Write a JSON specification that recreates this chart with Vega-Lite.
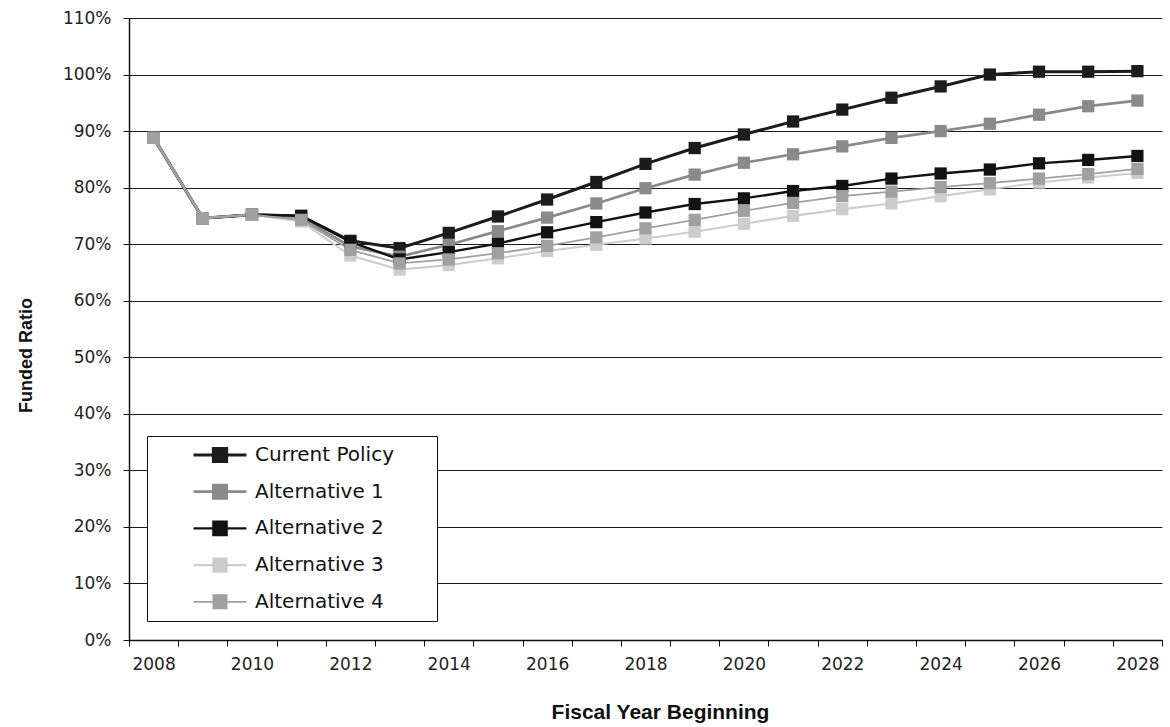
{
  "$schema": "https://vega.github.io/schema/vega-lite/v6.json",
  "width": 1033,
  "height": 622,
  "autosize": {"type": "none"},
  "padding": {"left": 129, "top": 18, "right": 8, "bottom": 87},
  "background": "white",
  "config": {
    "view": {"stroke": null},
    "axis": {"labelFont": "DejaVu Sans", "labelColor": "#222", "titleColor": "#111", "domainColor": "#111", "tickColor": "#111"}
  },
  "data": {"values": [
    {"year": 2008, "series": "Current Policy", "value": 88.8},
    {"year": 2009, "series": "Current Policy", "value": 74.6},
    {"year": 2010, "series": "Current Policy", "value": 75.2},
    {"year": 2011, "series": "Current Policy", "value": 75.0},
    {"year": 2012, "series": "Current Policy", "value": 70.6},
    {"year": 2013, "series": "Current Policy", "value": 69.3},
    {"year": 2014, "series": "Current Policy", "value": 72.0},
    {"year": 2015, "series": "Current Policy", "value": 74.9},
    {"year": 2016, "series": "Current Policy", "value": 77.9},
    {"year": 2017, "series": "Current Policy", "value": 81.0},
    {"year": 2018, "series": "Current Policy", "value": 84.2},
    {"year": 2019, "series": "Current Policy", "value": 87.0},
    {"year": 2020, "series": "Current Policy", "value": 89.4},
    {"year": 2021, "series": "Current Policy", "value": 91.7},
    {"year": 2022, "series": "Current Policy", "value": 93.8},
    {"year": 2023, "series": "Current Policy", "value": 95.9},
    {"year": 2024, "series": "Current Policy", "value": 97.9},
    {"year": 2025, "series": "Current Policy", "value": 100.0},
    {"year": 2026, "series": "Current Policy", "value": 100.5},
    {"year": 2027, "series": "Current Policy", "value": 100.5},
    {"year": 2028, "series": "Current Policy", "value": 100.6},
    {"year": 2008, "series": "Alternative 1", "value": 88.8},
    {"year": 2009, "series": "Alternative 1", "value": 74.6},
    {"year": 2010, "series": "Alternative 1", "value": 75.2},
    {"year": 2011, "series": "Alternative 1", "value": 74.6},
    {"year": 2012, "series": "Alternative 1", "value": 69.6},
    {"year": 2013, "series": "Alternative 1", "value": 67.8},
    {"year": 2014, "series": "Alternative 1", "value": 69.9},
    {"year": 2015, "series": "Alternative 1", "value": 72.3},
    {"year": 2016, "series": "Alternative 1", "value": 74.7},
    {"year": 2017, "series": "Alternative 1", "value": 77.2},
    {"year": 2018, "series": "Alternative 1", "value": 79.9},
    {"year": 2019, "series": "Alternative 1", "value": 82.3},
    {"year": 2020, "series": "Alternative 1", "value": 84.4},
    {"year": 2021, "series": "Alternative 1", "value": 85.9},
    {"year": 2022, "series": "Alternative 1", "value": 87.3},
    {"year": 2023, "series": "Alternative 1", "value": 88.8},
    {"year": 2024, "series": "Alternative 1", "value": 90.0},
    {"year": 2025, "series": "Alternative 1", "value": 91.3},
    {"year": 2026, "series": "Alternative 1", "value": 92.9},
    {"year": 2027, "series": "Alternative 1", "value": 94.4},
    {"year": 2028, "series": "Alternative 1", "value": 95.4},
    {"year": 2008, "series": "Alternative 2", "value": 88.8},
    {"year": 2009, "series": "Alternative 2", "value": 74.6},
    {"year": 2010, "series": "Alternative 2", "value": 75.2},
    {"year": 2011, "series": "Alternative 2", "value": 75.0},
    {"year": 2012, "series": "Alternative 2", "value": 70.4},
    {"year": 2013, "series": "Alternative 2", "value": 67.3},
    {"year": 2014, "series": "Alternative 2", "value": 68.6},
    {"year": 2015, "series": "Alternative 2", "value": 70.1},
    {"year": 2016, "series": "Alternative 2", "value": 72.1},
    {"year": 2017, "series": "Alternative 2", "value": 73.9},
    {"year": 2018, "series": "Alternative 2", "value": 75.6},
    {"year": 2019, "series": "Alternative 2", "value": 77.1},
    {"year": 2020, "series": "Alternative 2", "value": 78.1},
    {"year": 2021, "series": "Alternative 2", "value": 79.4},
    {"year": 2022, "series": "Alternative 2", "value": 80.3},
    {"year": 2023, "series": "Alternative 2", "value": 81.6},
    {"year": 2024, "series": "Alternative 2", "value": 82.5},
    {"year": 2025, "series": "Alternative 2", "value": 83.2},
    {"year": 2026, "series": "Alternative 2", "value": 84.3},
    {"year": 2027, "series": "Alternative 2", "value": 84.9},
    {"year": 2028, "series": "Alternative 2", "value": 85.6},
    {"year": 2008, "series": "Alternative 3", "value": 88.8},
    {"year": 2009, "series": "Alternative 3", "value": 74.6},
    {"year": 2010, "series": "Alternative 3", "value": 75.2},
    {"year": 2011, "series": "Alternative 3", "value": 74.0},
    {"year": 2012, "series": "Alternative 3", "value": 68.0},
    {"year": 2013, "series": "Alternative 3", "value": 65.5},
    {"year": 2014, "series": "Alternative 3", "value": 66.3},
    {"year": 2015, "series": "Alternative 3", "value": 67.5},
    {"year": 2016, "series": "Alternative 3", "value": 68.8},
    {"year": 2017, "series": "Alternative 3", "value": 69.9},
    {"year": 2018, "series": "Alternative 3", "value": 71.0},
    {"year": 2019, "series": "Alternative 3", "value": 72.2},
    {"year": 2020, "series": "Alternative 3", "value": 73.6},
    {"year": 2021, "series": "Alternative 3", "value": 75.0},
    {"year": 2022, "series": "Alternative 3", "value": 76.2},
    {"year": 2023, "series": "Alternative 3", "value": 77.2},
    {"year": 2024, "series": "Alternative 3", "value": 78.5},
    {"year": 2025, "series": "Alternative 3", "value": 79.7},
    {"year": 2026, "series": "Alternative 3", "value": 80.9},
    {"year": 2027, "series": "Alternative 3", "value": 81.8},
    {"year": 2028, "series": "Alternative 3", "value": 82.6},
    {"year": 2008, "series": "Alternative 4", "value": 88.8},
    {"year": 2009, "series": "Alternative 4", "value": 74.6},
    {"year": 2010, "series": "Alternative 4", "value": 75.2},
    {"year": 2011, "series": "Alternative 4", "value": 74.3},
    {"year": 2012, "series": "Alternative 4", "value": 69.0},
    {"year": 2013, "series": "Alternative 4", "value": 66.6},
    {"year": 2014, "series": "Alternative 4", "value": 67.3},
    {"year": 2015, "series": "Alternative 4", "value": 68.4},
    {"year": 2016, "series": "Alternative 4", "value": 69.7},
    {"year": 2017, "series": "Alternative 4", "value": 71.2},
    {"year": 2018, "series": "Alternative 4", "value": 72.8},
    {"year": 2019, "series": "Alternative 4", "value": 74.3},
    {"year": 2020, "series": "Alternative 4", "value": 75.9},
    {"year": 2021, "series": "Alternative 4", "value": 77.3},
    {"year": 2022, "series": "Alternative 4", "value": 78.5},
    {"year": 2023, "series": "Alternative 4", "value": 79.3},
    {"year": 2024, "series": "Alternative 4", "value": 80.1},
    {"year": 2025, "series": "Alternative 4", "value": 80.8},
    {"year": 2026, "series": "Alternative 4", "value": 81.6},
    {"year": 2027, "series": "Alternative 4", "value": 82.4},
    {"year": 2028, "series": "Alternative 4", "value": 83.3}
  ]},
  "encoding": {
    "x": {
      "field": "year", "type": "quantitative",
      "scale": {"domain": [2007.5, 2028.5], "nice": false, "zero": false},
      "axis": {
        "title": "Fiscal Year Beginning",
        "titleFont": "Liberation Sans", "titleFontSize": 21, "titleFontWeight": "bold", "titlePadding": 29, "titleX": 531,
        "values": [2007.5, 2008, 2008.5, 2009.5, 2010, 2010.5, 2011.5, 2012, 2012.5, 2013.5, 2014, 2014.5, 2015.5, 2016, 2016.5, 2017.5, 2018, 2018.5, 2019.5, 2020, 2020.5, 2021.5, 2022, 2022.5, 2023.5, 2024, 2024.5, 2025.5, 2026, 2026.5, 2027.5, 2028, 2028.5],
        "labelExpr": "datum.value % 1 === 0 ? '' + datum.value : ''",
        "labelOverlap": false, "labelBound": false, "labelFlush": false,
        "labelFontSize": 17, "labelPadding": 10,
        "tickSize": 6,
        "tickOpacity": {"condition": {"test": "datum.value % 1 === 0", "value": 0}, "value": 1},
        "grid": false, "domainWidth": 1.5
      }
    },
    "y": {
      "field": "value", "type": "quantitative",
      "scale": {"domain": [0, 110], "nice": false},
      "axis": {
        "title": "Funded Ratio",
        "titleFont": "Liberation Sans", "titleFontSize": 18, "titleFontWeight": "bold", "titlePadding": 27, "titleY": 337,
        "values": [0, 10, 20, 30, 40, 50, 60, 70, 80, 90, 100, 110],
        "labelExpr": "datum.value + '%'",
        "labelFontSize": 17, "labelPadding": 12, "tickSize": 6,
        "grid": true, "gridColor": "#1a1a1a", "gridWidth": 1.2, "gridOpacity": 1,
        "domainWidth": 1.5
      }
    },
    "color": {
      "field": "series", "type": "nominal",
      "scale": {
        "domain": ["Current Policy", "Alternative 1", "Alternative 2", "Alternative 3", "Alternative 4"],
        "range": ["#1c1c1c", "#8a8a8a", "#121212", "#cdcdcd", "#a0a0a0"]
      },
      "legend": {
        "title": "WW",
        "titleOrient": "right", "titleAngle": 0, "titleColor": "rgba(0,0,0,0)", "titleFont": "DejaVu Sans", "titleFontSize": 13, "titlePadding": 5,
        "orient": "none", "legendX": 18, "legendY": 418,
        "fillColor": "white", "strokeColor": "#111",
        "padding": 9,
        "symbolType": "M-1,0L1,0M-0.25,-0.25L0.25,-0.25L0.25,0.25L-0.25,0.25Z",
        "symbolSize": 2800, "symbolOffset": 36, "symbolStrokeWidth": 2,
        "clipHeight": 20, "rowPadding": 16.7,
        "labelFont": "DejaVu Sans", "labelFontSize": 20, "labelColor": "#111", "labelOffset": 7,
        "labelLimit": 400
      }
    }
  },
  "layer": [
    {
      "mark": {"type": "line"},
      "encoding": {
        "strokeWidth": {
          "field": "series", "type": "nominal",
          "scale": {
            "domain": ["Current Policy", "Alternative 1", "Alternative 2", "Alternative 3", "Alternative 4"],
            "range": [3, 1.8, 3, 1.8, 1.8]
          }
        }
      }
    },
    {
      "mark": {"type": "point", "shape": "square", "filled": true, "size": 150, "opacity": 1}
    }
  ]
}
